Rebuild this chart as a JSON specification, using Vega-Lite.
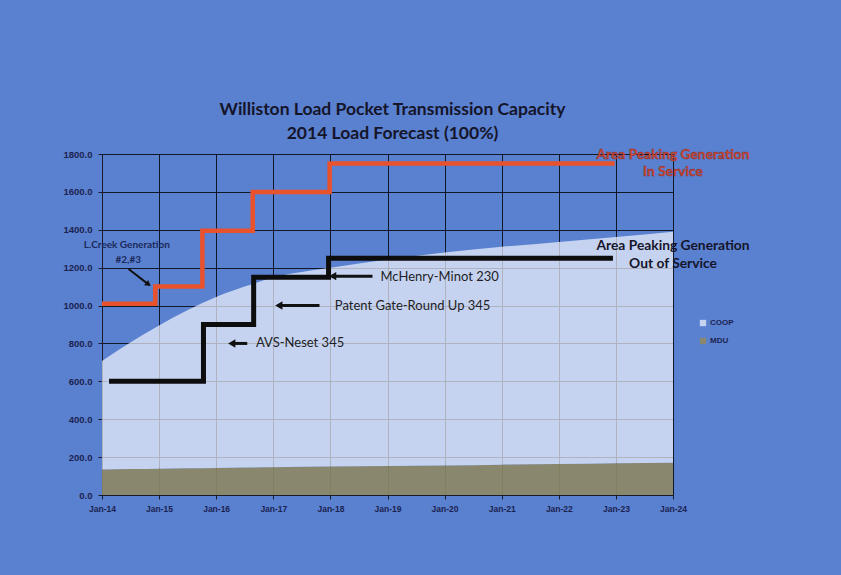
{
  "$schema": "https://vega.github.io/schema/vega-lite/v6.json",
  "width": 571,
  "height": 341,
  "autosize": {"type": "none"},
  "padding": {"left": 102, "top": 154, "right": 168, "bottom": 80},
  "background": "#5a80d0",
  "title": {
    "text": "Williston Load Pocket Transmission Capacity",
    "subtitle": "2014 Load Forecast (100%)",
    "font": "Lato", "fontSize": 17.5, "fontWeight": "bold", "color": "#15152a",
    "subtitleFont": "Lato", "subtitleFontSize": 17.5, "subtitleFontWeight": "bold", "subtitleColor": "#15152a",
    "subtitlePadding": 7, "offset": 5, "anchor": "middle", "dx": 5
  },
  "datasets": {
    "area": [
      {"date": "2014-01-01", "series": "MDU", "value": 135}, {"date": "2014-01-01", "series": "COOP", "value": 572},
      {"date": "2014-07-01", "series": "MDU", "value": 137}, {"date": "2014-07-01", "series": "COOP", "value": 668},
      {"date": "2015-01-01", "series": "MDU", "value": 139}, {"date": "2015-01-01", "series": "COOP", "value": 756},
      {"date": "2015-07-01", "series": "MDU", "value": 141}, {"date": "2015-07-01", "series": "COOP", "value": 834},
      {"date": "2016-01-01", "series": "MDU", "value": 143}, {"date": "2016-01-01", "series": "COOP", "value": 902},
      {"date": "2016-07-01", "series": "MDU", "value": 145}, {"date": "2016-07-01", "series": "COOP", "value": 955},
      {"date": "2017-01-01", "series": "MDU", "value": 147}, {"date": "2017-01-01", "series": "COOP", "value": 1001},
      {"date": "2018-01-01", "series": "MDU", "value": 150}, {"date": "2018-01-01", "series": "COOP", "value": 1050},
      {"date": "2019-01-01", "series": "MDU", "value": 153}, {"date": "2019-01-01", "series": "COOP", "value": 1090},
      {"date": "2020-01-01", "series": "MDU", "value": 156}, {"date": "2020-01-01", "series": "COOP", "value": 1124},
      {"date": "2021-01-01", "series": "MDU", "value": 160}, {"date": "2021-01-01", "series": "COOP", "value": 1150},
      {"date": "2022-01-01", "series": "MDU", "value": 163}, {"date": "2022-01-01", "series": "COOP", "value": 1173},
      {"date": "2023-01-01", "series": "MDU", "value": 167}, {"date": "2023-01-01", "series": "COOP", "value": 1195},
      {"date": "2024-01-01", "series": "MDU", "value": 170}, {"date": "2024-01-01", "series": "COOP", "value": 1220}
    ],
    "steps": [
      {"date": "2014-01-01", "line": "in", "value": 1010},
      {"date": "2014-12-08", "line": "in", "value": 1100},
      {"date": "2015-10-05", "line": "in", "value": 1395},
      {"date": "2016-08-22", "line": "in", "value": 1600},
      {"date": "2017-12-27", "line": "in", "value": 1750},
      {"date": "2022-12-24", "line": "in", "value": 1750},
      {"date": "2014-02-15", "line": "out", "value": 600},
      {"date": "2015-10-12", "line": "out", "value": 900},
      {"date": "2016-08-28", "line": "out", "value": 1150},
      {"date": "2017-12-20", "line": "out", "value": 1250},
      {"date": "2022-12-13", "line": "out", "value": 1250}
    ],
    "arrows": [
      {"name": "AVS", "d1": "2016-07-18", "v1": 800, "d2": "2016-04-10", "v2": 800},
      {"name": "Patent", "d1": "2017-10-23", "v1": 1000, "d2": "2017-02-05", "v2": 1000},
      {"name": "McHenry", "d1": "2018-09-27", "v1": 1155, "d2": "2018-01-15", "v2": 1155}
    ],
    "creek": [
      {"d1": "2014-06-20", "v1": 1193, "d2": "2014-10-25", "v2": 1112}
    ],
    "notes": [
      {"date": "2016-09-12", "value": 800, "label": "AVS-Neset 345", "kind": "main"},
      {"date": "2018-01-29", "value": 1000, "label": "Patent Gate-Round Up 345", "kind": "main"},
      {"date": "2018-11-17", "value": 1150, "label": "McHenry-Minot 230", "kind": "main"},
      {"date": "2024-01-01", "value": 1316, "label": "Area Peaking Generation", "kind": "out"},
      {"date": "2024-01-01", "value": 1221, "label": "Out of  Service", "kind": "out"},
      {"date": "2024-01-01", "value": 1795, "label": "Area Peaking Generation", "kind": "in"},
      {"date": "2024-01-01", "value": 1705, "label": "In Service", "kind": "in"},
      {"date": "2014-06-09", "value": 1318, "label": "L.Creek Generation", "kind": "creek"},
      {"date": "2014-06-18", "value": 1243, "label": "#2,#3", "kind": "creek"}
    ]
  },
  "encoding": {
    "x": {
      "type": "temporal",
      "scale": {"type": "utc", "domain": [{"year": 2014, "month": 1, "date": 1, "utc": true}, {"year": 2024, "month": 1, "date": 1, "utc": true}]},
      "axis": {
        "title": null, "format": "%b-%y",
        "values": [
          {"year": 2014, "month": 1, "date": 1, "utc": true}, {"year": 2015, "month": 1, "date": 1, "utc": true},
          {"year": 2016, "month": 1, "date": 1, "utc": true}, {"year": 2017, "month": 1, "date": 1, "utc": true},
          {"year": 2018, "month": 1, "date": 1, "utc": true}, {"year": 2019, "month": 1, "date": 1, "utc": true},
          {"year": 2020, "month": 1, "date": 1, "utc": true}, {"year": 2021, "month": 1, "date": 1, "utc": true},
          {"year": 2022, "month": 1, "date": 1, "utc": true}, {"year": 2023, "month": 1, "date": 1, "utc": true},
          {"year": 2024, "month": 1, "date": 1, "utc": true}
        ],
        "labelFont": "Liberation Sans", "labelFontSize": 8.5, "labelFontWeight": "bold", "labelColor": "#1a2350",
        "labelPadding": 5, "labelFlush": false, "labelOverlap": false,
        "tickColor": "#1a1a2a", "tickSize": 4, "domainColor": "#1a1a2a",
        "grid": true, "gridColor": "#0e1020", "gridOpacity": 0.95
      }
    },
    "y": {
      "type": "quantitative",
      "scale": {"domain": [0, 1800], "nice": false},
      "axis": {
        "title": null, "format": ".1f", "values": [0, 200, 400, 600, 800, 1000, 1200, 1400, 1600, 1800],
        "labelFont": "Liberation Sans", "labelFontSize": 9.5, "labelFontWeight": "bold", "labelColor": "#1a2350",
        "labelPadding": 6, "tickColor": "#1a1a2a", "tickSize": 4, "domainColor": "#1a1a2a",
        "grid": true, "gridColor": "#0e1020", "gridOpacity": 0.95
      }
    }
  },
  "layer": [
    {
      "mark": {"type": "rect", "color": {"gradient": "linear", "x1": 0, "y1": 0, "x2": 0, "y2": 1, "stops": [{"offset": 0, "color": "#4a67c2"}, {"offset": 1, "color": "#6598e2"}]}},
      "encoding": {
        "x": {"datum": {"year": 2014, "month": 1, "date": 1, "utc": true}, "type": "temporal"},
        "x2": {"datum": {"year": 2024, "month": 1, "date": 1, "utc": true}},
        "y": {"datum": 0, "type": "quantitative"},
        "y2": {"datum": 1800}
      }
    },
    {
      "data": {"name": "area"},
      "mark": {"type": "area", "interpolate": "monotone"},
      "encoding": {
        "x": {"field": "date", "type": "temporal"},
        "y": {"field": "value", "type": "quantitative", "stack": "zero"},
        "color": {
          "field": "series", "type": "nominal",
          "scale": {"domain": ["COOP", "MDU"], "range": ["#f2f7ff", "#8e8866"]},
          "legend": {"title": null, "orient": "none", "legendX": 597, "legendY": 165, "symbolType": "square", "symbolSize": 40, "symbolStrokeWidth": 0,
                     "labelFont": "Liberation Sans", "labelFontSize": 8, "labelFontWeight": "bold", "labelColor": "#1a2350", "rowPadding": 10, "labelOffset": 3}
        },
        "opacity": {"field": "series", "type": "nominal", "scale": {"domain": ["COOP", "MDU"], "range": [0.7, 0.92]}, "legend": null},
        "order": {"field": "series", "sort": "descending"}
      }
    },
    {
      "data": {"name": "steps"},
      "transform": [{"filter": "datum.line == 'in'"}],
      "mark": {"type": "line", "interpolate": "step-after", "color": "#e8522c", "strokeWidth": 4.5},
      "encoding": {"x": {"field": "date", "type": "temporal"}, "y": {"field": "value", "type": "quantitative"}}
    },
    {
      "data": {"name": "steps"},
      "transform": [{"filter": "datum.line == 'out'"}],
      "mark": {"type": "line", "interpolate": "step-after", "color": "#0d0d0d", "strokeWidth": 5},
      "encoding": {"x": {"field": "date", "type": "temporal"}, "y": {"field": "value", "type": "quantitative"}}
    },
    {
      "data": {"name": "arrows"},
      "mark": {"type": "rule", "color": "#111111", "strokeWidth": 3},
      "encoding": {
        "x": {"field": "d1", "type": "temporal"}, "x2": {"field": "d2"},
        "y": {"field": "v1", "type": "quantitative"}, "y2": {"field": "v2"}
      }
    },
    {
      "data": {"name": "arrows"},
      "mark": {"type": "point", "shape": "triangle-left", "filled": true, "color": "#111111", "size": 70, "opacity": 1},
      "encoding": {"x": {"field": "d2", "type": "temporal"}, "y": {"field": "v2", "type": "quantitative"}}
    },
    {
      "data": {"name": "creek"},
      "mark": {"type": "rule", "color": "#111111", "strokeWidth": 2},
      "encoding": {
        "x": {"field": "d1", "type": "temporal"}, "x2": {"field": "d2"},
        "y": {"field": "v1", "type": "quantitative"}, "y2": {"field": "v2"}
      }
    },
    {
      "data": {"name": "creek"},
      "mark": {"type": "point", "shape": "triangle-right", "angle": 37, "filled": true, "color": "#111111", "size": 45, "opacity": 1},
      "encoding": {"x": {"field": "d2", "type": "temporal"}, "y": {"field": "v2", "type": "quantitative"}}
    },
    {
      "data": {"name": "notes"},
      "transform": [{"filter": "datum.kind == 'main'"}],
      "mark": {"type": "text", "align": "left", "baseline": "middle", "font": "Lato", "fontSize": 13, "color": "#1e1e24"},
      "encoding": {"x": {"field": "date", "type": "temporal"}, "y": {"field": "value", "type": "quantitative"}, "text": {"field": "label"}}
    },
    {
      "data": {"name": "notes"},
      "transform": [{"filter": "datum.kind == 'out'"}],
      "mark": {"type": "text", "align": "center", "baseline": "middle", "font": "Lato", "fontSize": 13.8, "fontWeight": "bold", "color": "#15152a", "clip": false},
      "encoding": {"x": {"field": "date", "type": "temporal"}, "y": {"field": "value", "type": "quantitative"}, "text": {"field": "label"}}
    },
    {
      "data": {"name": "notes"},
      "transform": [{"filter": "datum.kind == 'in'"}],
      "mark": {"type": "text", "align": "center", "baseline": "middle", "font": "Lato", "fontSize": 13.8, "fontWeight": "bold", "color": "#d84a30", "stroke": "#7a2a2a", "strokeWidth": 0.4},
      "encoding": {"x": {"field": "date", "type": "temporal"}, "y": {"field": "value", "type": "quantitative"}, "text": {"field": "label"}}
    },
    {
      "data": {"name": "notes"},
      "transform": [{"filter": "datum.kind == 'creek'"}],
      "mark": {"type": "text", "align": "center", "baseline": "middle", "font": "Lato", "fontSize": 10, "fontWeight": "bold", "color": "#1a2a5a"},
      "encoding": {"x": {"field": "date", "type": "temporal"}, "y": {"field": "value", "type": "quantitative"}, "text": {"field": "label"}}
    }
  ],
  "config": {"view": {"stroke": null}}
}
